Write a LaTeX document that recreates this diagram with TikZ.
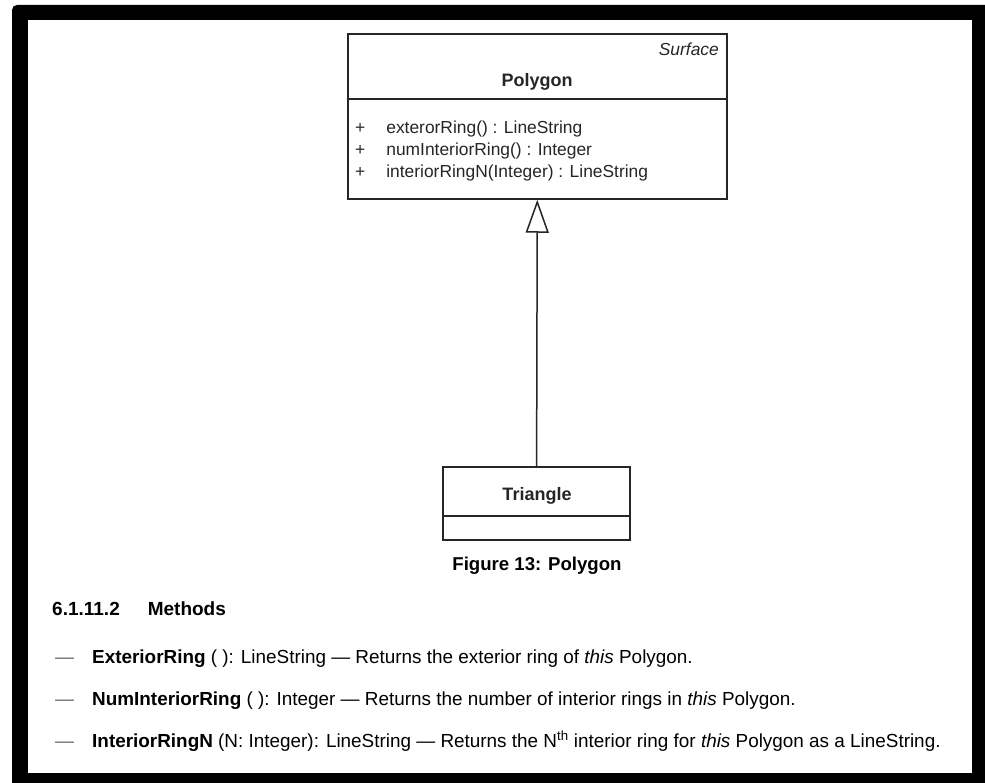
\documentclass[tikz,border=0pt]{standalone}
\usepackage{fontspec}
\setmainfont{Liberation Sans}
\usetikzlibrary{arrows.meta, positioning}
\tikzset{
  umlbox/.style={
    rectangle,
    draw=black!85, line width=1.5pt,
    fill=white
  },
  umltext/.style={
    font=\fontsize{17.4}{22}\selectfont,
    text=black!85, inner sep=0pt
  },
  bodytext/.style={
    font=\fontsize{18.9}{22}\selectfont,
    anchor=base west, inner sep=0pt
  }
}

\begin{document}
\begin{tikzpicture}[x=1pt, y=-1pt, >=stealth]
          \useasboundingbox (0,0) rectangle (985,783);
          % frame
          \fill[black, rounded corners=5pt] (12,5) rectangle (995,793);
          \fill[white] (28,20) rectangle (972,773);

          % classes
          \node[umlbox, minimum width=379pt, minimum height=165pt] (polygon) at (537.5,116.5) {};
          \node[umlbox, minimum width=187pt, minimum height=73pt] (triangle) at (536.5,503.5) {};
          \draw[line width=1.5pt, black!85] (polygon.west |- 0,99) -- (polygon.east |- 0,99);
          \draw[line width=1.5pt, black!85] (triangle.west |- 0,516) -- (triangle.east |- 0,516);

          \node[umltext, anchor=base east] (stereo) at (719,56) {\itshape Surface};
          \node[umltext, anchor=base, font=\fontsize{18}{22}\selectfont\bfseries] (pname) at (537,87) {Polygon};
          \node[umltext, anchor=base, font=\fontsize{18}{22}\selectfont\bfseries] (tname) at (537,500) {Triangle};
          \node[umltext, anchor=north west] (ops) at (355,118) {%
            \begin{tabular}{@{}l@{\hspace{21pt}}l@{}}
              + & exterorRing() : LineString\\
              + & numInteriorRing() : Integer\\
              + & interiorRingN(Integer) : LineString
            \end{tabular}};

          % generalisation
          \draw[-{Triangle[open, length=33pt, width=23pt]}, line width=1.5pt, black!85]
            (triangle) -- (polygon);

          \node[bodytext, anchor=base, font=\fontsize{18.6}{22}\selectfont\bfseries] (caption) at (537,570) {Figure 13: Polygon};

          % methods text
          \node[bodytext, font=\fontsize{19}{22}\selectfont\bfseries] (heading) at (52,615) {6.1.11.2\hspace{28pt}Methods};
          \node[bodytext, text=black!60] (dash1) at (55,663) {---};
          \node[bodytext, text=black!60] (dash2) at (55,705) {---};
          \node[bodytext, text=black!60] (dash3) at (55,747) {---};
          \node[bodytext] (m1) at (92,663) {\textbf{ExteriorRing} ( ): LineString --- Returns the exterior ring of \textit{this} Polygon.};
          \node[bodytext] (m2) at (92,705) {\textbf{NumInteriorRing} ( ): Integer --- Returns the number of interior rings in \textit{this} Polygon.};
          \node[bodytext] (m3) at (92,747) {\textbf{InteriorRingN} (N: Integer): LineString --- Returns the N\textsuperscript{th} interior ring for \textit{this} Polygon as a LineString.};
        \end{tikzpicture}
\end{document}
